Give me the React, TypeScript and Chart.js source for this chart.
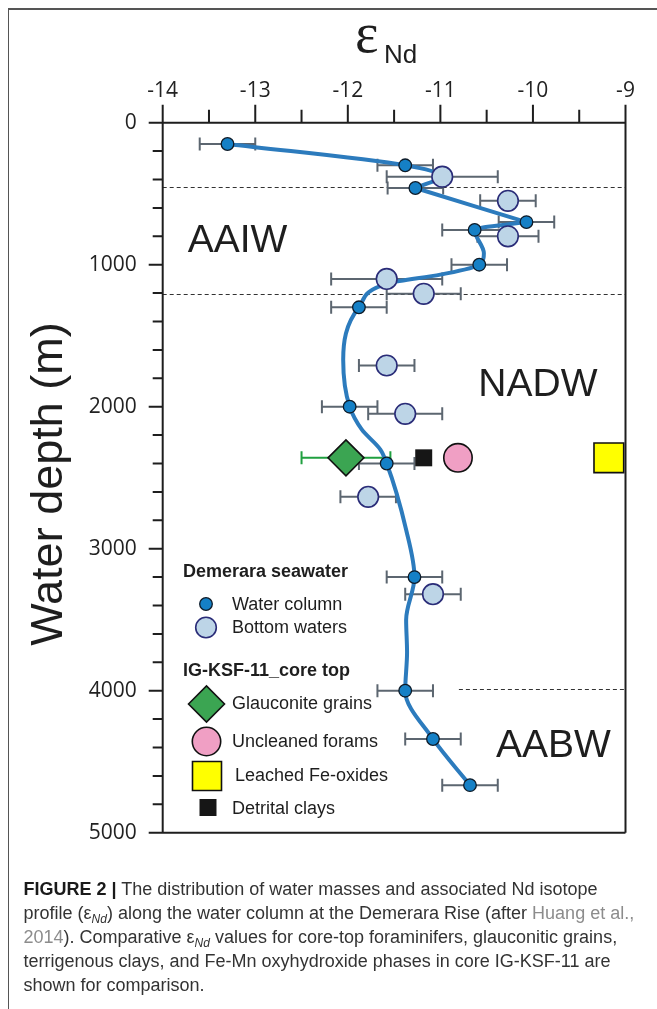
import React, { useEffect, useRef } from 'react';
import { Chart, registerables } from 'chart.js';

Chart.register(...registerables);

const W = 657;
const H = 1009;

// ---- axes ----
const epsTicks = [-14, -13, -12, -11, -10, -9];
const epsTickLabels = ['-14', '-13', '-12', '-11', '-10', '-9'];
const depthTicks = [0, 1000, 2000, 3000, 4000, 5000];
const depthTickLabels = ['0', '1000', '2000', '3000', '4000', '5000'];

// ---- Demerara seawater: water column ----
const wcEps = [-13.3, -11.38, -11.27, -10.07, -10.63, -10.58, -11.88, -11.98, -11.58, -11.28, -11.38, -11.08, -10.68];
const wcDepth = [150, 300, 460, 700, 755, 1000, 1300, 2000, 2400, 3200, 4000, 4340, 4665];
const wcErr = [0.3, 0.3, 0.3, 0.3, 0.35, 0.3, 0.3, 0.3, 0.3, 0.3, 0.3, 0.3, 0.3];

// ---- Demerara seawater: bottom waters ----
const bwEps = [-10.98, -10.27, -10.27, -11.58, -11.18, -11.58, -11.38, -11.78, -11.08];
const bwDepth = [380, 550, 800, 1100, 1205, 1710, 2050, 2635, 3320];
const bwErr = [0.6, 0.3, 0.33, 0.6, 0.4, 0.3, 0.4, 0.3, 0.3];

// ---- IG-KSF-11 core top ----
const coreDepth = 2360;
const glauconiteEps = -12.02;
const glauconiteErr = 0.48;
const foramsEps = -10.81;
const feOxidesEps = -9.18;
const claysEps = -11.18;

// ---- smoothed profile curve (segments joined at shared points) ----
const curveEps = [-13.3, -11.38, -11.0, -11.27, -10.07, -10.63, -10.53, -10.58, -11.0, -11.55, -11.88, -12.05, -11.98, -11.85, -11.65, -11.58, -11.37, -11.28, -11.37, -11.36, -11.38, -11.08, -10.68];
const curveDepth = [150, 300, 378, 460, 700, 755, 920, 1000, 1070, 1130, 1300, 1670, 2000, 2160, 2300, 2400, 2866, 3200, 3500, 3730, 4000, 4340, 4665];
const curveJoins = [3, 4];

// ---- water-mass boundaries (dashed) ----
const boundaryDepth = [454, 1207, 3990];
const boundaryFromEps = [-14, -14, -10.8];

// ---- water-mass labels ----
const massNames = ['AAIW', 'NADW', 'AABW'];
const massEps = [-13.73, -10.59, -10.4];
const massDepth = [835, 1850, 4390];

const C = {
  wc: '#1580c6',
  wcBorder: '#0e1b28',
  bw: '#bdd5e7',
  bwBorder: '#2a2c78',
  curve: '#2c7bbd',
  err: '#5c6670',
  green: '#3ba552',
  greenErr: '#20a040',
  pink: '#f09fc4',
  yellow: '#ffff00',
  black: '#161616',
  text: '#1e1e1e',
};

const SANS = '"Liberation Sans", Arial, sans-serif';

function drawMarker(ctx: CanvasRenderingContext2D, kind: string, x: number, y: number, r: number, fill: string, stroke: string, lw: number) {
  ctx.save();
  ctx.beginPath();
  if (kind === 'circle') {
    ctx.arc(x, y, r, 0, Math.PI * 2);
  } else if (kind === 'diamond') {
    ctx.moveTo(x - r, y);
    ctx.lineTo(x, y - r);
    ctx.lineTo(x + r, y);
    ctx.lineTo(x, y + r);
    ctx.closePath();
  } else {
    ctx.rect(x - r, y - r, 2 * r, 2 * r);
  }
  ctx.fillStyle = fill;
  ctx.fill();
  if (lw > 0) {
    ctx.lineWidth = lw;
    ctx.strokeStyle = stroke;
    ctx.stroke();
  }
  ctx.restore();
}

function text(ctx: CanvasRenderingContext2D, s: string, x: number, y: number, font: string, color = C.text, align: CanvasTextAlign = 'left', baseline: CanvasTextBaseline = 'middle') {
  ctx.save();
  ctx.font = font;
  ctx.fillStyle = color;
  ctx.textAlign = align;
  ctx.textBaseline = baseline;
  ctx.fillText(s, x, y);
  ctx.restore();
}

const decorPlugin = {
  id: 'decor',
  beforeDatasetsDraw(chart: any) {
    const { ctx, chartArea, scales } = chart;
    const xs = scales.x;
    const ys = scales.y;
    // dashed boundaries
    ctx.save();
    ctx.strokeStyle = '#333';
    ctx.lineWidth = 1;
    ctx.setLineDash([4, 3]);
    boundaryDepth.forEach((d, i) => {
      const yp = Math.round(ys.getPixelForValue(d)) + 0.5;
      ctx.beginPath();
      ctx.moveTo(xs.getPixelForValue(boundaryFromEps[i]), yp);
      ctx.lineTo(chartArea.right, yp);
      ctx.stroke();
    });
    ctx.restore();

    // error bars
    const bar = (eps: number, depth: number, err: number, color: string) => {
      const yp = ys.getPixelForValue(depth);
      const x1 = xs.getPixelForValue(eps - err);
      const x2 = xs.getPixelForValue(eps + err);
      ctx.save();
      ctx.strokeStyle = color;
      ctx.lineWidth = 2;
      ctx.beginPath();
      ctx.moveTo(x1, yp);
      ctx.lineTo(x2, yp);
      ctx.moveTo(x1, yp - 6.5);
      ctx.lineTo(x1, yp + 6.5);
      ctx.moveTo(x2, yp - 6.5);
      ctx.lineTo(x2, yp + 6.5);
      ctx.stroke();
      ctx.restore();
    };
    wcEps.forEach((e, i) => bar(e, wcDepth[i], wcErr[i], C.err));
    bwEps.forEach((e, i) => bar(e, bwDepth[i], bwErr[i], C.err));
    bar(glauconiteEps, coreDepth, glauconiteErr, C.greenErr);
  },
  afterDatasetsDraw(chart: any) {
    const { ctx, chartArea, scales } = chart;
    const xs = scales.x;
    const ys = scales.y;
    const { left, right, top, bottom } = chartArea;

    // frame
    ctx.save();
    ctx.strokeStyle = '#1e1e1e';
    ctx.lineWidth = 2;
    ctx.beginPath();
    ctx.moveTo(left, top);
    ctx.lineTo(right, top);
    ctx.moveTo(left, top);
    ctx.lineTo(left, bottom);
    ctx.moveTo(left, bottom);
    ctx.lineTo(right, bottom);
    ctx.moveTo(right, top);
    ctx.lineTo(right, bottom);
    // x ticks (upward)
    for (let v = xs.min; v <= xs.max + 1e-9; v += 0.5) {
      const xp = xs.getPixelForValue(v);
      const major = Math.abs(v - Math.round(v)) < 1e-6;
      ctx.moveTo(xp, top);
      ctx.lineTo(xp, top - (major ? 18 : 13));
    }
    // y ticks (leftward)
    for (let v = ys.min; v <= ys.max + 1e-9; v += 200) {
      const yp = ys.getPixelForValue(v);
      const major = v % 1000 === 0;
      ctx.moveTo(left, yp);
      ctx.lineTo(left - (major ? 14 : 10), yp);
    }
    ctx.stroke();
    ctx.restore();

    // axis titles
    text(ctx, 'ε', 355, 52, `56px "Liberation Serif", serif`, C.text, 'left', 'alphabetic');
    text(ctx, 'Nd', 384, 62.5, `26px ${SANS}`, C.text, 'left', 'alphabetic');
    ctx.save();
    ctx.translate(62, 484);
    ctx.rotate(-Math.PI / 2);
    text(ctx, 'Water depth (m)', 0, 0, `45px ${SANS}`, C.text, 'center', 'alphabetic');
    ctx.restore();

    // water-mass labels
    massNames.forEach((n, i) => {
      text(ctx, n, xs.getPixelForValue(massEps[i]), ys.getPixelForValue(massDepth[i]), `39px ${SANS}`, C.text, 'left', 'middle');
    });

    // legend
    const lx = 206;
    const tx = 232;
    text(ctx, 'Demerara seawater', 183, 572, `bold 18px ${SANS}`);
    drawMarker(ctx, 'circle', lx, 604, 6.3, C.wc, C.wcBorder, 1.3);
    text(ctx, 'Water column', tx, 605, `18px ${SANS}`);
    drawMarker(ctx, 'circle', lx, 627.5, 10.3, C.bw, C.bwBorder, 1.6);
    text(ctx, 'Bottom waters', tx, 628, `18px ${SANS}`);
    text(ctx, 'IG-KSF-11_core top', 183, 671, `bold 18px ${SANS}`);
    drawMarker(ctx, 'diamond', 206.5, 704, 18, C.green, '#111', 1.6);
    text(ctx, 'Glauconite grains', tx, 704, `18px ${SANS}`);
    drawMarker(ctx, 'circle', 206.5, 741.5, 14.2, C.pink, '#111', 1.6);
    text(ctx, 'Uncleaned forams', tx, 742, `18px ${SANS}`);
    drawMarker(ctx, 'rect', 207, 776, 14.5, C.yellow, '#111', 1.6);
    text(ctx, 'Leached Fe-oxides', 235, 776, `18px ${SANS}`);
    drawMarker(ctx, 'rect', 208, 807.5, 8.5, C.black, C.black, 0);
    text(ctx, 'Detrital clays', tx, 809, `18px ${SANS}`);
  },
};

export default function App() {
  const ref = useRef<HTMLCanvasElement | null>(null);

  useEffect(() => {
    const canvas = ref.current;
    if (!canvas) return;
    const pts = (xs: number[], ys: number[]) => xs.map((x, i) => ({ x, y: ys[i] }));
    const allCurve = pts(curveEps, curveDepth);
    const bounds = [0, ...curveJoins, allCurve.length - 1];
    const curveSets = bounds.slice(0, -1).map((b, i) => ({
      label: 'Profile ' + i,
      data: allCurve.slice(b, bounds[i + 1] + 1),
      indexAxis: 'y',
      cubicInterpolationMode: 'monotone',
      borderColor: C.curve,
      borderWidth: 4,
      borderCapStyle: 'round',
      borderJoinStyle: 'round',
      pointRadius: 0,
      fill: false,
      clip: false,
    }));
    const chart = new Chart(canvas, {
      type: 'line',
      data: {
        datasets: [
          {
            label: 'Water column',
            data: pts(wcEps, wcDepth),
            showLine: false,
            pointStyle: 'circle',
            pointRadius: 6.3,
            pointBackgroundColor: C.wc,
            pointBorderColor: C.wcBorder,
            pointBorderWidth: 1.3,
            clip: false,
          },
          {
            label: 'Bottom waters',
            data: pts(bwEps, bwDepth),
            showLine: false,
            pointStyle: 'circle',
            pointRadius: 10.3,
            pointBackgroundColor: C.bw,
            pointBorderColor: C.bwBorder,
            pointBorderWidth: 1.6,
            clip: false,
          },
          {
            label: 'Glauconite grains',
            data: [{ x: glauconiteEps, y: coreDepth }],
            showLine: false,
            pointStyle: 'rectRot',
            pointRadius: 18,
            pointBackgroundColor: C.green,
            pointBorderColor: '#111',
            pointBorderWidth: 1.6,
            clip: false,
          },
          {
            label: 'Uncleaned forams',
            data: [{ x: foramsEps, y: coreDepth }],
            showLine: false,
            pointStyle: 'circle',
            pointRadius: 14.2,
            pointBackgroundColor: C.pink,
            pointBorderColor: '#111',
            pointBorderWidth: 1.6,
            clip: false,
          },
          {
            label: 'Leached Fe-oxides',
            data: [{ x: feOxidesEps, y: coreDepth }],
            showLine: false,
            pointStyle: 'rect',
            pointRadius: 21,
            pointBackgroundColor: C.yellow,
            pointBorderColor: '#111',
            pointBorderWidth: 1.6,
            clip: false,
          },
          {
            label: 'Detrital clays',
            data: [{ x: claysEps, y: coreDepth }],
            showLine: false,
            pointStyle: 'rect',
            pointRadius: 12,
            pointBackgroundColor: C.black,
            pointBorderColor: C.black,
            pointBorderWidth: 0,
            clip: false,
          },
          ...(curveSets as any[]),
        ],
      },
      options: {
        responsive: false,
        maintainAspectRatio: false,
        animation: false,
        events: [],
        layout: { padding: { left: 0, top: 0, right: 31.5, bottom: 176.3 } },
        plugins: {
          legend: { display: false },
          tooltip: { enabled: false },
        },
        scales: {
          x: {
            type: 'linear',
            position: 'top',
            min: -14,
            max: -9,
            afterFit: (s: any) => {
              s.height = 122.7;
            },
            afterBuildTicks: (s: any) => {
              s.ticks = epsTicks.map((v) => ({ value: v }));
            },
            ticks: {
              callback: (_v: any, i: number) => epsTickLabels[i],
              font: { family: '"Open Sans"', size: 21 },
              color: '#222',
              padding: 19,
              maxRotation: 0,
              autoSkip: false,
            },
            grid: { display: true, drawOnChartArea: false, drawTicks: false, color: 'rgba(0,0,0,0)' },
            border: { display: false },
          },
          y: {
            type: 'linear',
            position: 'left',
            reverse: true,
            min: 0,
            max: 5000,
            afterFit: (s: any) => {
              s.width = 162.7;
            },
            afterBuildTicks: (s: any) => {
              s.ticks = depthTicks.map((v) => ({ value: v }));
            },
            ticks: {
              callback: (_v: any, i: number) => depthTickLabels[i],
              font: { family: '"Open Sans"', size: 21 },
              color: '#222',
              padding: 26,
              autoSkip: false,
            },
            grid: { display: true, drawOnChartArea: false, drawTicks: false, color: 'rgba(0,0,0,0)' },
            border: { display: false },
          },
        },
      } as any,
      plugins: [decorPlugin],
    });
    return () => chart.destroy();
  }, []);

  const grey = { color: '#8c8c8c' };
  const sub: React.CSSProperties = { fontSize: 12, fontStyle: 'italic', position: 'relative', top: 4, lineHeight: 0 };

  return (
    <div style={{ position: 'absolute', left: 0, top: 0, width: W, height: H, background: '#fff', overflow: 'hidden' }}>
      <div
        style={{
          position: 'absolute',
          left: 7.5,
          top: 8,
          width: W,
          height: H,
          borderTop: '2px solid #555',
          borderLeft: '1px solid #555',
          boxSizing: 'border-box',
        }}
      />
      <canvas ref={ref} width={W} height={H} style={{ position: 'absolute', left: 0, top: 0, width: W, height: H }} />
      <div
        style={{
          position: 'absolute',
          left: 23.5,
          top: 877,
          fontFamily: SANS,
          fontSize: 18,
          lineHeight: '24px',
          color: '#333',
          whiteSpace: 'nowrap',
        }}
      >
        <div>
          <b style={{ color: '#1a1a1a' }}>FIGURE 2 |</b> The distribution of water masses and associated Nd isotope
        </div>
        <div>
          profile (ε<span style={sub}>Nd</span>) along the water column at the Demerara Rise (after{' '}
          <span style={grey}>Huang et al.,</span>
        </div>
        <div>
          <span style={grey}>2014</span>). Comparative ε<span style={sub}>Nd</span> values for core-top foraminifers, glauconitic grains,
        </div>
        <div>terrigenous clays, and Fe-Mn oxyhydroxide phases in core IG-KSF-11 are</div>
        <div>shown for comparison.</div>
      </div>
    </div>
  );
}
